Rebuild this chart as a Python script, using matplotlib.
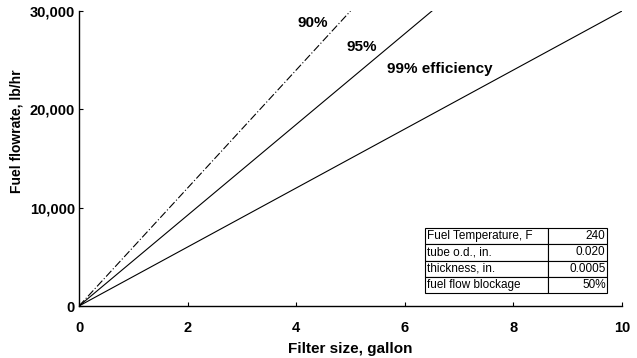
import matplotlib
matplotlib.use("Agg")
import matplotlib.pyplot as plt

# Data
series_names = ["90%", "95%", "99% efficiency"]
x_end = [5.0, 6.5, 10.0]          # filter size (gallon) at 30,000 lb/hr
y_end = [30000, 30000, 30000]
label_x = [4.3, 5.2, 6.65]
label_y = [28800, 26300, 24100]
xticks = [0, 2, 4, 6, 8, 10]
yticks = [0, 10000, 20000, 30000]
ytick_labels = ["0", "10,000", "20,000", "30,000"]
table_rows = [["Fuel Temperature, F", "240"],
              ["tube o.d., in.", "0.020"],
              ["thickness, in.", "0.0005"],
              ["fuel flow blockage", "50%"]]

plt.rcParams['font.family'] = ['Liberation Sans', 'DejaVu Sans']

fig = plt.figure(figsize=(6.37, 3.58), dpi=100)
ax = fig.add_axes([79/637, 52/358, 543/637, 295/358])

styles = [(0, (7, 2, 1, 2)), '-', '-']
for xe, ye, ls in zip(x_end, y_end, styles):
    ax.plot([0, xe], [0, ye], color='black', lw=0.8, linestyle=ls)
for name, lx, ly in zip(series_names, label_x, label_y):
    ax.text(lx, ly, name, ha='center', va='center', fontsize=11, fontweight='bold')

ax.set_xlim(0, 10)
ax.set_ylim(0, 30000)
ax.set_xticks(xticks)
ax.set_xticklabels([str(v) for v in xticks])
ax.set_yticks(yticks)
ax.set_yticklabels(ytick_labels)
for lbl in ax.get_xticklabels() + ax.get_yticklabels():
    lbl.set_fontweight('bold')
    lbl.set_fontsize(10.5)
ax.tick_params(direction='in', length=3, width=0.8)
ax.tick_params(axis='x', pad=11)
ax.tick_params(axis='y', pad=3)
ax.spines['top'].set_visible(False)
ax.spines['right'].set_visible(False)
ax.spines['left'].set_linewidth(1.0)
ax.spines['bottom'].set_linewidth(1.0)
ax.set_xlabel("Filter size, gallon", fontsize=11, fontweight='bold', labelpad=5)
ax.set_ylabel("Fuel flowrate, lb/hr", fontsize=10, fontweight='bold')
ax.yaxis.set_label_coords(-0.103, 0.593)

tbl = ax.table(cellText=table_rows, colWidths=[0.676, 0.324],
               bbox=[0.637, 0.044, 0.335, 0.22])
tbl.auto_set_font_size(False)
tbl.set_fontsize(8.5)
for (r, c), cell in tbl.get_celld().items():
    cell.set_linewidth(0.8)
    cell.set_edgecolor('black')
    cell.PAD = 0.02
    cell.get_text().set_ha('left' if c == 0 else 'right')
    cell._loc = 'left' if c == 0 else 'right'

fig.savefig("out.png", dpi=100)
